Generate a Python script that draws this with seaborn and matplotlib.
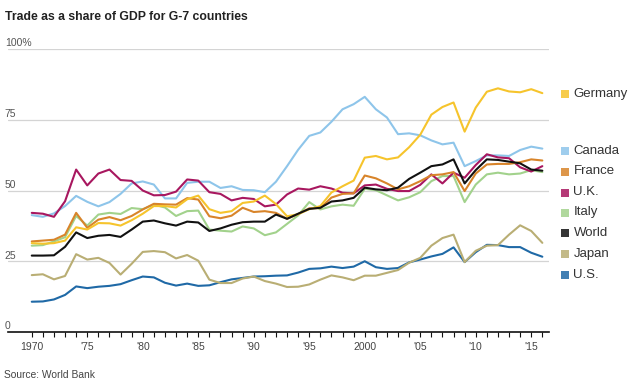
import matplotlib
matplotlib.use("Agg")
import matplotlib.pyplot as plt
from matplotlib.patches import Rectangle
import seaborn as sns
import pandas as pd

sns.set_theme(style="white")
plt.rcParams['font.family'] = ['Liberation Sans', 'DejaVu Sans']

years = list(range(1970, 2017))

germany = [31.4, 31.2, 31.4, 32.3, 37.0, 36.2, 38.5, 38.4, 37.6, 39.5,
           41.8, 44.5, 44.5, 44.0, 46.9, 48.2, 43.4, 42.1, 42.7, 45.6,
           46.1, 48.2, 45.2, 40.9, 41.6, 43.4, 44.5, 49.3, 51.5, 53.5,
           61.6, 62.2, 61.0, 61.7, 65.3, 69.7, 76.8, 79.5, 81.1, 70.8,
           79.3, 84.9, 86.1, 85.0, 84.7, 85.8, 84.4]
canada = [41.3, 40.7, 41.9, 44.5, 48.1, 46.0, 44.4, 45.9, 48.8, 52.5,
          53.2, 52.1, 47.2, 47.2, 52.7, 53.1, 53.1, 50.9, 51.5, 50.2,
          50.1, 49.4, 53.1, 58.6, 64.4, 69.3, 70.5, 74.3, 78.7, 80.5,
          83.1, 78.7, 75.8, 69.9, 70.2, 69.5, 67.7, 66.3, 66.9, 58.6,
          60.4, 62.4, 62.4, 62.2, 64.3, 65.5, 64.8]
france = [32.0, 32.3, 32.6, 34.4, 42.1, 36.8, 39.7, 40.6, 39.5, 41.0,
          43.3, 45.3, 45.1, 45.0, 47.3, 46.8, 40.9, 40.2, 41.1, 43.9,
          42.4, 42.7, 42.1, 40.0, 41.7, 43.7, 43.8, 47.5, 48.8, 49.0,
          55.3, 54.3, 52.5, 50.4, 51.5, 53.3, 55.4, 55.7, 56.5, 49.8,
          56.0, 59.2, 59.4, 59.4, 60.0, 61.0, 60.6]
uk = [42.1, 41.8, 40.7, 46.2, 57.4, 51.8, 56.0, 57.4, 53.7, 53.4,
      50.0, 48.3, 48.4, 49.6, 53.9, 53.5, 49.4, 48.8, 46.5, 47.4,
      47.0, 44.4, 45.0, 48.6, 50.7, 50.3, 51.5, 50.7, 49.2, 49.0,
      51.8, 52.1, 50.6, 49.8, 49.8, 52.0, 55.7, 52.5, 56.3, 54.5,
      59.0, 62.8, 61.7, 61.4, 58.2, 56.7, 58.6]
italy = [30.5, 30.7, 32.0, 33.5, 41.0, 37.6, 41.5, 42.1, 41.7, 43.8,
         43.4, 45.0, 44.0, 41.0, 42.7, 42.9, 36.2, 35.8, 35.5, 37.3,
         36.6, 34.2, 35.2, 38.2, 41.2, 45.9, 43.3, 44.4, 45.0, 44.6,
         50.6, 50.1, 48.3, 46.5, 47.6, 49.4, 53.3, 55.1, 55.1, 45.9,
         52.1, 55.7, 56.3, 55.7, 56.0, 57.2, 56.5]
world = [27.0, 27.0, 27.1, 30.1, 35.2, 33.2, 34.0, 34.3, 33.6, 36.2,
         39.0, 39.4, 38.4, 37.6, 39.0, 38.7, 35.7, 36.6, 37.9, 38.8,
         39.0, 39.0, 41.5, 40.0, 41.8, 43.5, 43.9, 46.1, 46.5, 47.4,
         51.0, 50.4, 50.1, 51.0, 54.1, 56.3, 58.6, 59.2, 61.0, 52.5,
         57.2, 61.0, 60.8, 60.2, 59.6, 57.4, 57.0]
japan = [20.1, 20.4, 18.6, 19.8, 27.5, 25.6, 26.2, 24.4, 20.3, 24.1,
         28.3, 28.6, 28.2, 26.0, 27.2, 25.2, 18.5, 17.3, 17.3, 18.9,
         19.6, 18.0, 17.1, 15.9, 16.0, 16.8, 18.5, 20.0, 19.3, 18.3,
         19.9, 19.9, 20.9, 21.9, 24.5, 26.2, 30.5, 33.2, 34.4, 24.7,
         28.7, 30.5, 30.7, 34.4, 37.7, 35.7, 31.5]
us = [10.7, 10.8, 11.5, 13.1, 16.1, 15.5, 16.0, 16.3, 16.9, 18.3,
      19.6, 19.3, 17.4, 16.4, 17.1, 16.3, 16.5, 17.6, 18.6, 19.1,
      19.6, 19.7, 19.9, 20.0, 21.0, 22.3, 22.5, 23.1, 22.6, 23.1,
      25.0, 22.9, 22.3, 22.6, 24.6, 25.6, 26.7, 27.6, 29.9, 24.7,
      28.2, 30.8, 30.7, 30.0, 30.0, 28.0, 26.6]

countries = ['Germany', 'Canada', 'France', 'U.K.', 'Italy', 'World', 'Japan', 'U.S.']
colors = ['#f6c42c', '#8ec5ea', '#d8842a', '#a8175f', '#a2d28c', '#111111', '#b9ae74', '#1f69a6']
xtick_years = [1970, 1975, 1980, 1985, 1990, 1995, 2000, 2005, 2010, 2015]
xtick_labels = ['1970', "'75", "'80", "'85", "'90", "'95", '2000', "'05", "'10", "'15"]
ytick_vals = [0, 25, 50, 75, 100]
ytick_labels = ['0', '25', '50', '75', '100%']

df = pd.DataFrame({'year': years, 'Germany': germany, 'Canada': canada, 'France': france,
                   'U.K.': uk, 'Italy': italy, 'World': world, 'Japan': japan, 'U.S.': us})
long = df.melt(id_vars='year', var_name='country', value_name='share')

W, H = 640, 389
fig = plt.figure(figsize=(6.4, 3.89), dpi=100)
ax = fig.add_axes([8 / W, 57 / H, 541 / W, 283 / H])

draw_order = ['U.S.', 'Japan', 'Italy', 'Canada', 'U.K.', 'France', 'Germany', 'World']
palette = dict(zip(countries, colors))
sns.lineplot(data=long, x='year', y='share', hue='country', hue_order=draw_order,
             palette=palette, linewidth=1.5, legend=False, ax=ax)

ax.set_xlim(1967.86, 2016.6)
ax.set_ylim(0, 100)
ax.set_xlabel('')
ax.set_ylabel('')

# gridlines and y labels sitting just above them
for v, lab in zip(ytick_vals, ytick_labels):
    if v > 0:
        ax.axhline(v, color='#d4d4d4', lw=0.9, zorder=0)
    ax.text(-0.006, v + 0.2, lab, transform=ax.get_yaxis_transform(), ha='left', va='bottom',
            fontsize=7.5, color='#555555')
ax.set_yticks([])

for side in ['top', 'right', 'left']:
    ax.spines[side].set_visible(False)
ax.spines['bottom'].set_color('#111111')
ax.spines['bottom'].set_linewidth(1.2)

ax.set_xticks(xtick_years)
ax.set_xticklabels(xtick_labels, fontsize=7.5, color='#444444')
ax.set_xticks(years, minor=True)
ax.tick_params(axis='x', which='both', direction='out', length=3.5, width=0.8,
               color='#111111', bottom=True, pad=3.5)

fig.text(5 / W, 1 - 17 / H, 'Trade as a share of GDP for G-7 countries', fontsize=8.8,
         fontweight='bold', color='#222222', ha='left', va='center')
fig.text(4 / W, 1 - 375 / H, 'Source: World Bank', fontsize=7.4, color='#444444',
         ha='left', va='center')

# legend entries at the right edge
legend_y = [94, 150.5, 171.5, 192.5, 212.5, 233, 253.5, 274.5]
for name, col, yy in zip(countries, colors, legend_y):
    fig.patches.append(Rectangle((561 / W, 1 - (yy + 4) / H), 8 / W, 8 / H,
                                 transform=fig.transFigure, facecolor=col,
                                 edgecolor='none', alpha=0.85))
    fig.text(573.5 / W, 1 - yy / H, name, fontsize=9.5, color='#333333',
             ha='left', va='center')

fig.savefig('out.png', dpi=100)
